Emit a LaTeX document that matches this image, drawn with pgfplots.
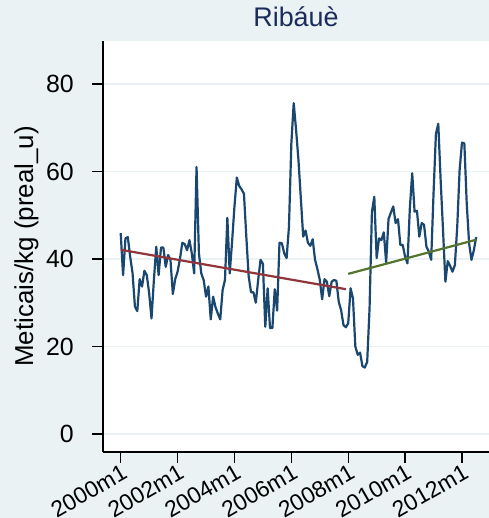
\documentclass[border=0pt]{standalone}
\usepackage{fontspec}
\setmainfont{Liberation Sans}
\usepackage{pgfplots}
\pgfplotsset{compat=1.18}
\definecolor{bgcol}{RGB}{234,242,243}
\definecolor{navy}{RGB}{26,71,111}
\definecolor{maroon}{RGB}{144,53,59}
\definecolor{olive}{RGB}{85,117,47}
\definecolor{titcol}{RGB}{28,44,90}
\begin{document}
\begin{tikzpicture}
\fill[bgcol] (0,0) rectangle (489bp,518bp);
\useasboundingbox (0,0) rectangle (489bp,518bp);
\begin{axis}[
  at={(103bp,66bp)}, anchor=south west,
  scale only axis, width=386bp, height=411bp,
  xmin=-7.47, xmax=155.4, ymin=-4.1, ymax=89.8,
  axis background/.style={fill=white},
  axis x line*=bottom, axis y line*=left,
  axis line style={-, line width=1.3bp, black},
  tick align=outside, major tick length=11bp,
  tick style={line width=1.3bp, black},
  xtick={0,24,48,72,96,120,144},
  xticklabels={},
  ytick={0,20,40,60,80},
  ymajorgrids, grid style={line width=1.5bp, bgcol},
  /pgf/number format/assume math mode=true,
  yticklabel style={font=\fontsize{25}{29}\selectfont, anchor=east, inner ysep=0pt, inner xsep=18bp},
  ylabel={Meticais/kg (preal\_u)},
  ylabel style={font=\fontsize{26}{30}\selectfont, at={(axis description cs:-0.1813,0.5)}, anchor=base},
  title={Ribáuè},
  title style={font=\fontsize{27}{31}\selectfont, text=titcol, at={(axis description cs:0.5,1)}, anchor=base, yshift=9bp},
  clip=false,
]
\begin{scope}
\clip (axis cs:-7.47,-4.1) rectangle (axis cs:155.4,89.8);
\addplot[navy, line width=2.2bp, line join=round] table {
0 45.9
1 36.3
2 44.7
3 45.0
4 40.5
5 36.8
6 29.1
7 28.1
8 35.4
9 33.7
10 37.3
11 36.3
12 32.2
13 26.4
14 35.2
15 42.8
16 36.3
17 42.6
18 42.6
19 38.2
20 40.9
21 39.8
22 32.0
23 35.4
24 37.1
25 40.0
26 43.7
27 43.4
28 42.0
29 44.3
30 41.3
31 36.7
32 61.0
33 41.3
34 36.7
35 35.2
36 31.4
37 33.7
38 26.2
39 31.4
40 29.0
41 27.5
42 26.2
43 32.9
44 35.2
45 49.4
46 36.7
47 44.0
48 52.0
49 58.6
50 56.7
51 55.9
52 54.9
53 45.1
54 36.0
55 32.4
56 32.4
57 30.0
58 35.2
59 39.8
60 38.9
61 24.5
62 33.3
63 24.2
64 24.2
65 33.1
66 28.2
67 43.7
68 43.6
69 41.3
70 40.2
71 47.4
72 66.4
73 75.6
74 69.5
75 62.6
76 53.9
77 45.1
78 46.5
79 43.7
80 43.0
81 44.5
82 39.8
83 37.7
84 35.2
85 30.8
86 35.4
87 34.8
88 31.5
89 34.8
90 35.2
91 35.0
92 30.2
93 28.3
94 24.9
95 24.4
96 25.3
97 33.3
98 31.0
99 20.0
100 18.1
101 18.6
102 15.5
103 15.2
104 16.5
105 28.7
106 50.8
107 54.2
108 40.2
109 44.7
110 44.3
111 46.1
112 39.2
113 49.1
114 50.6
115 52.0
116 48.2
117 49.1
118 43.2
119 43.2
120 40.5
121 39.0
122 51.6
123 59.6
124 50.8
125 51.0
126 45.1
127 48.2
128 47.8
129 42.8
130 41.7
131 39.8
132 55.0
133 68.6
134 70.9
135 58.0
136 46.6
137 34.8
138 39.5
139 38.4
140 37.1
141 38.6
142 47.4
143 60.3
144 66.6
145 66.4
146 52.7
147 43.6
148 39.8
149 42.0
150 45.0
};
\addplot[maroon, line width=2.2bp] coordinates {(0,42.1) (95,33.1)};
\addplot[olive, line width=2.2bp] coordinates {(96,36.6) (150,44.4)};
\end{scope}
\pgfplotsinvokeforeach{0,24,48,72,96,120,144}{
  \node[font=\fontsize{23}{27}\selectfont, rotate=30, anchor=north east, inner sep=0pt]
    at ([xshift=0bp,yshift=-11bp]axis cs:#1,-4.1) {\pgfmathparse{int(2000+#1/12)}\pgfmathresult m1};
}
\end{axis}
\end{tikzpicture}
\end{document}
